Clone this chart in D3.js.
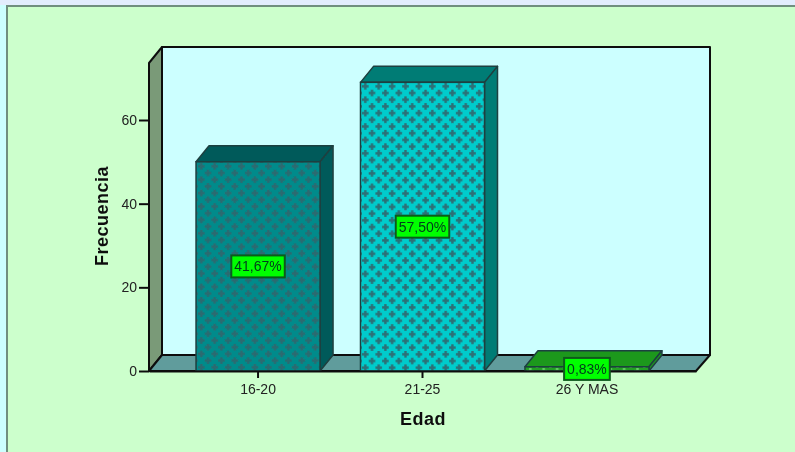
<!DOCTYPE html>
<html>
<head>
<meta charset="utf-8">
<script src="https://cdn.jsdelivr.net/npm/d3@7"></script>
<style>
    html, body { margin: 0; padding: 0; background: #ccffcc; overflow: hidden; }
    svg { display: block; font-family: "Liberation Sans", Arial, sans-serif; }
</style>
</head>
<body>
<div id="chart"></div>
<script>
var categories = ["16-20", "21-25", "26 Y MAS"];
var frequencies = [50, 69, 1];
var percentLabels = ["41,67%", "57,50%", "0,83%"];
var yTicks = [0, 20, 40, 60];
var frontColors = ["#008b8b", "#00cccc", "#22a022"];
var sideColors = ["#005a5a", "#007b75", "#1f981f"];
var crossColors = ["#2d6a70", "#2d6f76", "#66cc66"];

var width = 795;
var height = 452;
var left = 149, right = 696, base = 371, top_ = 63;
var depthX = 13, depthY = 16;
var tile = 13.4;

var svg = d3.select("#chart").append("svg")
    .attr("width", width)
    .attr("height", height);

var x = d3.scaleBand()
    .domain(categories)
    .range([left, right])
    .paddingInner(0.246)
    .paddingOuter(0.286);

var y = d3.scaleLinear()
    .domain([0, 60])
    .range([base, 120]);

var defs = svg.append("defs");

// the reference is a slightly soft screenshot
defs.append("filter")
    .attr("id", "soft")
    .attr("x", 0).attr("y", 0).attr("width", 1).attr("height", 1)
    .append("feGaussianBlur")
    .attr("stdDeviation", 0.35);

// cross hatch fills, one per bar
frontColors.forEach(function(c, i) {
    var p = defs.append("pattern")
        .attr("id", "cross" + i)
        .attr("patternUnits", "userSpaceOnUse")
        .attr("width", tile)
        .attr("height", tile)
        .attr("x", Math.round(x(categories[i])) + 2)
        .attr("y", Math.round(y(frequencies[i])) + 1);
    p.append("rect").attr("width", tile).attr("height", tile).attr("fill", c);
    [[3.3, 3.3], [3.3 + tile / 2, 3.3 + tile / 2]].forEach(function(o) {
        p.append("rect").attr("x", o[0] - 3.3).attr("y", o[1] - 1.2).attr("width", 6.6).attr("height", 2.4).attr("fill", crossColors[i]);
        p.append("rect").attr("x", o[0] - 1.2).attr("y", o[1] - 3.3).attr("width", 2.4).attr("height", 6.6).attr("fill", crossColors[i]);
    });
});

var root = svg.append("g").attr("filter", "url(#soft)");

// page frame
root.append("rect").attr("width", width).attr("height", height).attr("fill", "#ccffff");
root.append("rect").attr("width", width).attr("height", 5).attr("fill", "#e2edfd");
root.append("rect").attr("x", 6).attr("y", 5).attr("width", width - 6).attr("height", height - 5).attr("fill", "#6f8f7f");
root.append("rect").attr("x", 8).attr("y", 7).attr("width", width - 8).attr("height", height - 7).attr("fill", "#ccffcc");

function poly(points, fill, stroke) {
    return root.append("polygon")
        .attr("points", points.map(function(p) { return p.join(","); }).join(" "))
        .attr("fill", fill)
        .attr("stroke", stroke || "#111")
        .attr("stroke-width", 2)
        .attr("stroke-linejoin", "round");
}

// walls and floor
poly([[left + depthX, top_ - depthY], [right + depthX + 1, top_ - depthY], [right + depthX + 1, base - depthY], [left + depthX, base - depthY]], "#ccffff");
poly([[left, top_], [left + depthX, top_ - depthY], [left + depthX, base - depthY], [left, base]], "#7a9a78");
poly([[left, base], [left + depthX, base - depthY], [right + depthX + 1, base - depthY], [right, base]], "#609c9c");

// bars
categories.forEach(function(c, i) {
    var x0 = x(c), x1 = x0 + x.bandwidth(), yTop = y(frequencies[i]);
    poly([[x0, yTop], [x0 + depthX, yTop - depthY], [x1 + depthX, yTop - depthY], [x1, yTop]], sideColors[i], "#1f3f3f").attr("stroke-width", 1.5);
    poly([[x1, yTop], [x1 + depthX, yTop - depthY], [x1 + depthX, base - depthY], [x1, base]], sideColors[i], "#1f3f3f").attr("stroke-width", 1.5);
    root.append("rect")
        .attr("x", x0)
        .attr("y", yTop)
        .attr("width", x.bandwidth())
        .attr("height", base - yTop)
        .attr("fill", "url(#cross" + i + ")")
        .attr("stroke", "#1f3f3f")
        .attr("stroke-width", 1.5);
});

// axes
var yAxis = root.append("g")
    .attr("transform", "translate(" + left + ",0)")
    .call(d3.axisLeft(y).tickValues(yTicks).tickSize(10).tickPadding(2).tickSizeOuter(0));
yAxis.select(".domain").remove();

var xAxis = root.append("g")
    .attr("transform", "translate(0," + base + ")")
    .call(d3.axisBottom(x).tickSize(7).tickPadding(6).tickSizeOuter(0));
xAxis.select(".domain").attr("stroke", "#111").attr("stroke-width", 2);

root.selectAll(".tick line").attr("stroke", "#111").attr("stroke-width", 2);
root.selectAll(".tick text").attr("font-family", "Liberation Sans").attr("font-size", 14).attr("fill", "#222");

// value labels
categories.forEach(function(c, i) {
    var cx = x(c) + x.bandwidth() / 2;
    var cy = (y(frequencies[i]) + base) / 2;
    var g = root.append("g");
    var box = g.append("rect").attr("fill", "#00ff00").attr("stroke", "#0a5a1a").attr("stroke-width", 2);
    var t = g.append("text")
        .attr("x", cx)
        .attr("y", cy + 5)
        .attr("text-anchor", "middle")
        .attr("font-size", 14)
        .attr("fill", "#04401a")
        .text(percentLabels[i]);
    var w = t.node().getComputedTextLength() + 6;
    box.attr("x", cx - w / 2).attr("y", cy - 11).attr("width", w).attr("height", 22);
});

// axis titles
root.append("text")
    .attr("x", 423)
    .attr("y", 425)
    .attr("text-anchor", "middle")
    .attr("font-size", 18)
    .attr("font-weight", "bold")
    .attr("letter-spacing", 0.5)
    .attr("fill", "#111")
    .text("Edad");

root.append("text")
    .attr("transform", "translate(108,216) rotate(-90)")
    .attr("text-anchor", "middle")
    .attr("font-size", 18)
    .attr("font-weight", "bold")
    .attr("letter-spacing", 0.5)
    .attr("fill", "#111")
    .text("Frecuencia");
</script>
</body>
</html>
